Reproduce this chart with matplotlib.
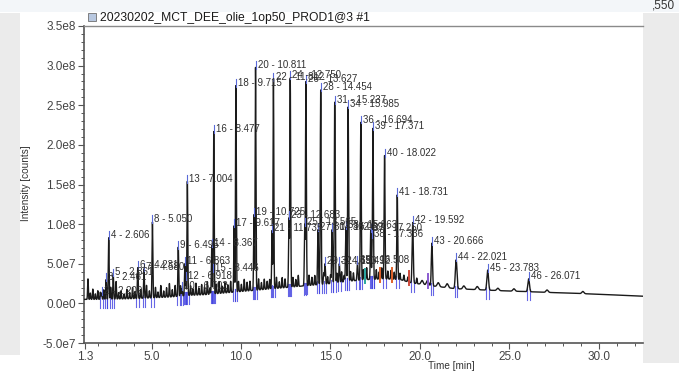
import numpy as np
import matplotlib
matplotlib.use("Agg")
import matplotlib.pyplot as plt
from matplotlib.ticker import FixedLocator, MultipleLocator, FuncFormatter
from matplotlib.patches import Rectangle

plt.rcParams['font.family'] = ['Liberation Sans', 'DejaVu Sans']

# ---------------- data ----------------
title = "20230202_MCT_DEE_olie_1op50_PROD1@3 #1"
x_label = "Time [min]"
y_label = "Intensity [counts]"
x_tick_values = [1.3, 5.0, 10.0, 15.0, 20.0, 25.0, 30.0]
x_tick_labels = ["1.3", "5.0", "10.0", "15.0", "20.0", "25.0", "30.0"]

# labelled peaks: number, retention time [min], apex intensity [counts]
peak_num = [2, 3, 4, 5, 6, 7, 8, 9, 10, 11, 12, 13, 14, 15, 16, 17, 18, 19, 20, 21,
            22, 23, 24, 25, 26, 27, 28, 29, 30, 31, 32, 33, 34, 35, 36, 37, 38, 39, 40, 41,
            42, 43, 44, 45, 46]
peak_rt = [2.209, 2.461, 2.606, 2.861, 4.231, 4.580, 5.050, 6.495, 6.702, 6.863,
           6.918, 7.004, 8.367, 8.446, 8.477, 9.617, 9.715, 10.725, 10.811, 11.735,
           11.812, 12.683, 12.750, 13.565, 13.627, 14.302, 14.454, 14.693, 15.089, 15.237,
           15.492, 15.863, 15.985, 16.508, 16.694, 17.250, 17.336, 17.371, 18.022, 18.731,
           19.592, 20.666, 22.021, 23.783, 26.071]
peak_height = [1.3e7, 3.0e7, 8.3e7, 3.6e7, 4.5e7, 4.3e7, 10.3e7, 7.1e7, 1.9e7, 5.0e7,
               3.1e7, 15.4e7, 7.3e7, 4.2e7, 21.7e7, 9.8e7, 27.5e7, 11.2e7, 29.8e7, 9.2e7,
               28.3e7, 10.8e7, 28.5e7, 10.0e7, 28.0e7, 9.3e7, 27.0e7, 5.0e7, 9.3e7, 25.4e7,
               5.0e7, 9.6e7, 24.8e7, 5.2e7, 22.9e7, 9.2e7, 8.4e7, 22.1e7, 18.7e7, 13.7e7,
               10.2e7, 7.6e7, 5.5e7, 4.2e7, 3.1e7]

# baseline (drift) read at a few times
base_t = [1.2, 2.0, 3.0, 4.0, 5.0, 6.0, 7.0, 8.0, 9.0, 10.0, 11.0, 12.0, 13.0,
          14.0, 15.0, 16.0, 17.0, 18.0, 18.9, 19.5, 20.7, 22.0, 24.5, 28.2, 30.0, 32.5]
base_v = [0.5e7, 0.5e7, 0.55e7, 0.6e7, 0.7e7, 0.8e7, 1.0e7, 1.1e7, 1.3e7, 1.5e7, 1.7e7,
          1.9e7, 2.1e7, 2.3e7, 2.5e7, 2.8e7, 3.0e7, 3.1e7, 3.0e7, 2.6e7, 2.2e7, 1.85e7,
          1.6e7, 1.3e7, 1.15e7, 0.9e7]

# small unlabelled peaks (time, height above baseline)
noise_rt = [1.45, 1.58, 1.72, 1.86, 2.00, 2.14, 2.33, 2.72, 3.02, 3.16,
            3.30, 3.46, 3.62, 3.78, 3.94, 4.08, 4.40, 4.72, 4.88, 5.22,
            5.36, 5.52, 5.68, 5.84, 6.00, 6.16, 6.32, 6.62, 7.18, 7.32,
            7.48, 7.64, 7.80, 7.96, 8.12, 8.26, 8.62, 8.78, 8.94, 9.10,
            9.26, 9.42, 9.86, 10.02, 10.18, 10.34, 10.50, 10.98, 11.14, 11.30,
            11.46, 11.60, 11.98, 12.14, 12.30, 12.46, 12.90, 13.06, 13.20, 13.80,
            13.96, 14.12, 14.62, 14.84, 15.00, 15.36, 15.62, 15.76, 16.12, 16.28,
            16.84, 17.02, 17.56, 17.72, 17.86, 18.20, 18.38, 18.56, 18.88, 19.10,
            19.32, 19.82, 20.12, 20.42, 21.02, 21.52, 22.45, 23.20, 24.35, 25.25,
            27.10, 29.10]
noise_h = [2.6e7, 0.8e7, 1.3e7, 0.7e7, 1.1e7, 0.9e7, 1.2e7, 1.5e7, 2.2e7, 0.8e7,
           1.0e7, 0.6e7, 1.2e7, 0.8e7, 1.4e7, 0.9e7, 1.1e7, 1.6e7, 0.9e7, 1.3e7,
           0.7e7, 1.5e7, 0.8e7, 1.2e7, 1.7e7, 0.9e7, 1.4e7, 1.3e7, 1.2e7, 0.8e7,
           1.5e7, 0.9e7, 1.3e7, 1.0e7, 1.6e7, 0.8e7, 1.2e7, 1.5e7, 0.9e7, 1.3e7,
           1.0e7, 1.4e7, 1.3e7, 0.9e7, 1.5e7, 1.1e7, 1.2e7, 1.4e7, 0.9e7, 1.3e7,
           1.0e7, 1.2e7, 1.4e7, 0.8e7, 1.3e7, 1.1e7, 1.2e7, 0.9e7, 1.4e7, 1.3e7,
           1.0e7, 1.2e7, 1.4e7, 0.9e7, 1.1e7, 1.2e7, 1.3e7, 0.8e7, 1.2e7, 1.0e7,
           1.3e7, 1.5e7, 1.2e7, 0.9e7, 1.4e7, 1.0e7, 1.1e7, 0.9e7, 0.8e7, 0.7e7,
           0.6e7, 0.7e7, 0.5e7, 0.6e7, 0.5e7, 0.5e7, 0.4e7, 0.4e7, 0.3e7, 0.3e7,
           0.3e7, 0.28e7]

# coloured peak-delimiter marks
delim_rt = [16.95, 17.75, 18.45, 19.40, 20.45]
delim_color = ["#2aa6a0", "#e0602a", "#e0602a", "#d04a3a", "#8a5ad0"]

# ---------------- build trace ----------------
t = np.arange(1.2, 32.46, 0.004)
base = np.interp(t, base_t, base_v)
peaks_env = np.zeros_like(t)
for rt, h in zip(peak_rt, peak_height):
    sig = 0.022 if rt < 12 else (0.025 if rt < 19 else (0.032 if rt < 21 else 0.045))
    amp = h - np.interp(rt, base_t, base_v)
    peaks_env = np.maximum(peaks_env, amp * np.exp(-0.5 * ((t - rt) / sig) ** 2))
noise = np.zeros_like(t)
for rt, h in zip(noise_rt, noise_h):
    sig = 0.02 if rt < 20 else 0.06
    noise += h * np.exp(-0.5 * ((t - rt) / sig) ** 2)
signal = base + peaks_env + noise

# ---------------- figure ----------------
W, H = 679, 373
fig = plt.figure(figsize=(W / 100, H / 100), dpi=100)
fig.patch.set_facecolor("white")

def fx(px):
    return px / W

def fy(py):
    return 1 - py / H

# frame decorations (screenshot surroundings)
fig.add_artist(Rectangle((0, fy(12)), 1, 12 / H, transform=fig.transFigure,
                         facecolor="#f3f6f9", edgecolor="none", zorder=0))
fig.add_artist(Rectangle((0, fy(355)), fx(20), (355 - 13) / H, transform=fig.transFigure,
                         facecolor="#ebebeb", edgecolor="none", zorder=0))
fig.add_artist(Rectangle((fx(643), fy(363)), fx(W - 643), (363 - 13) / H,
                         transform=fig.transFigure, facecolor="#ebebeb", edgecolor="none", zorder=0))
fig.text(fx(675), fy(5), ",550", ha="right", va="center", fontsize=8.5, color="#333333")

ax = fig.add_axes([fx(83.5), fy(343), fx(643 - 83.5), (343 - 26) / H])
ax.set_facecolor("white")

ax.plot(t, signal, color="#1a1a1a", lw=1.0, zorder=3)

# integration marks
for rt in peak_rt:
    b = np.interp(rt, base_t, base_v)
    for dx in (-0.07, 0.07):
        ax.plot([rt + dx, rt + dx], [b - 1.1e7, b + 0.4e7], color="#4040e0",
                lw=0.8, alpha=0.8, zorder=2)
for rt, c in zip(delim_rt, delim_color):
    b = np.interp(rt, base_t, base_v)
    ax.plot([rt, rt], [b - 0.4e7, b + 1.4e7], color=c, lw=1.4, zorder=4)

# peak labels
for n, rt, h in zip(peak_num, peak_rt, peak_height):
    ax.plot([rt, rt], [h - 0.2e7, h + 0.8e7], color="#5a6ad8", lw=0.8, zorder=5)
    ax.annotate(f"{n} - {rt:.3f}", xy=(rt, h + 0.3e7), xytext=(1.5, 0),
                textcoords="offset points", ha="left", va="center",
                fontsize=7, color="#303030", zorder=6)

ax.set_xlim(1.2, 32.46)
ax.set_ylim(-5e7, 3.5e8)

ax.xaxis.set_major_locator(FixedLocator(x_tick_values))
ax.set_xticklabels(x_tick_labels)
ax.xaxis.set_minor_locator(MultipleLocator(1.0))
ax.yaxis.set_major_locator(MultipleLocator(5e7))
ax.yaxis.set_minor_locator(MultipleLocator(1e7))

def yfmt(v, pos):
    if abs(v) < 1:
        return "0.0e0"
    e = int(np.floor(np.log10(abs(v))))
    m = v / 10 ** e
    return f"{m:.1f}e{e}"

ax.yaxis.set_major_formatter(FuncFormatter(yfmt))
ax.tick_params(axis="both", which="major", direction="out", length=4, width=0.8,
               color="#555555", labelsize=8.5, labelcolor="#444444", pad=1.5)
ax.tick_params(axis="both", which="minor", direction="out", length=2, width=0.7,
               color="#555555")

for s in ("left", "bottom"):
    ax.spines[s].set_color("#555555")
    ax.spines[s].set_linewidth(1.2)
ax.spines["top"].set_color("#8a8a8a")
ax.spines["top"].set_linewidth(1.0)
ax.spines["right"].set_visible(False)

# title with small icon
fig.add_artist(Rectangle((fx(88), fy(21)), fx(8), 8 / H, transform=fig.transFigure,
                         facecolor="#b8c8e0", edgecolor="#707070", lw=0.6))
fig.text(fx(100), fy(18), title, ha="left", va="center", fontsize=8.7, color="#1a1a1a")
fig.text(fx(451), fy(366), x_label, ha="center", va="center", fontsize=7.2, color="#333333")
fig.text(fx(26), fy(183), y_label, ha="center", va="center", rotation=90,
         fontsize=7.2, color="#333333")

fig.savefig("out.png", dpi=100)
